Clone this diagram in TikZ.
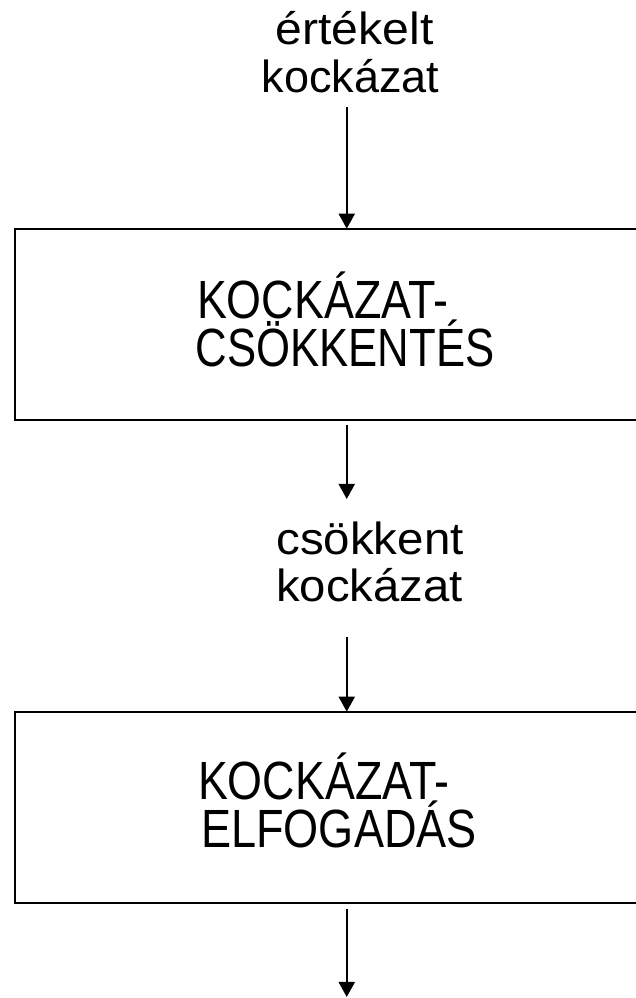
\documentclass[tikz,border=0pt]{standalone}
\usepackage{fontspec}
\setmainfont{Liberation Sans}
\usetikzlibrary{arrows.meta}
\tikzset{
  lbl/.style={font=\fontsize{45}{54}\selectfont, inner sep=0pt, anchor=base},
  btxt/.style={font=\fontsize{46}{55}\selectfont, inner sep=0pt, anchor=base},
  bx/.style={draw, line width=2pt, outer sep=0pt, inner sep=0pt, minimum width=664.5pt},
  arr/.style={line width=2pt, -{Triangle[width=16pt,length=15pt]}}
}
\newcommand{\vs}[2][1]{\scalebox{#1}[1.17]{#2}}
% two-line box text: #1 = shift (twice the left offset) of the first line, #2 first line, #3 second line
\newcommand{\twolines}[3]{\makebox[0pt]{\hspace*{#1}\raisebox{48pt}{#2}}\makebox[0pt]{#3}}
\begin{document}
\begin{tikzpicture}[x=1pt,y=1pt]
\useasboundingbox (0,0) rectangle (636,998);
% labels
\node[lbl] (l1) at (354.5,953) {\scalebox{1.07}[1]{értékelt}};
\node[lbl] (l2) at (350.5,905.3) {kockázat};
\node[lbl] (l3) at (370,443) {\scalebox{1.055}[1]{csökkent}};
\node[lbl] (l4) at (369.5,396.3) {\scalebox{1.05}[1]{kockázat}};
% boxes
\node[bx, minimum height=191.3pt] (box1) at (346.75,673.65) {};
\node[bx, minimum height=191.6pt] (box2) at (346.75,190.5) {};
% box texts
\node[btxt] (t1) at (345,631) {\twolines{-45pt}{\vs[0.975]{KOCKÁZAT-}}{\vs[0.95]{CSÖKKENTÉS}}};
\node[btxt] (t2) at (339,150) {\twolines{-31pt}{\vs[0.975]{KOCKÁZAT-}}{\vs[0.98]{ELFOGADÁS}}};
% connector ends
\coordinate (c1) at (346.75,891);
\coordinate (c2) at (346.75,573);
\coordinate (c3) at (346.75,499);
\coordinate (c4) at (346.75,361);
\coordinate (c5) at (346.75,89);
\coordinate (c6) at (346.75,1);
\draw[arr] (c1) -- (box1.north);
\draw[arr] (c2) -- (c3);
\draw[arr] (c4) -- (box2.north);
\draw[arr] (c5) -- (c6);
\end{tikzpicture}
\end{document}
